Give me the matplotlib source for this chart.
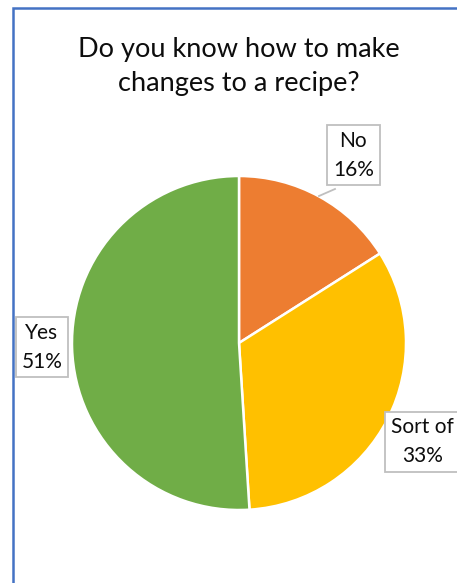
import matplotlib
matplotlib.use("Agg")
import matplotlib.pyplot as plt
from matplotlib.patches import Rectangle

# survey answers
answers = ["No", "Sort of", "Yes"]
shares = [16, 33, 51]
slice_colors = ["#ED7D31", "#FFC000", "#70AD47"]

plt.rcParams["font.family"] = ["Lato", "DejaVu Sans"]

W, H = 457, 583
fig = plt.figure(figsize=(W / 100, H / 100), dpi=100)

# chart frame (only the top and left edges fall inside the image)
fig.patches.append(Rectangle((13 / W, -0.2), 2.0, 1.2 - 8 / H,
                             transform=fig.transFigure, fill=False,
                             edgecolor="#4472C4", linewidth=1.8))

fig.text(239 / W, 1 - 67 / H, "Do you know how to make\nchanges to a recipe?",
         ha="center", va="center", fontsize=19.5, linespacing=1.45,
         color="#0D0D0D")

# pie area: centre (239, 343), radius 167 px
cx, cy, r = 239, 343, 167
ax = fig.add_axes([(cx - r) / W, (H - cy - r) / H, 2 * r / W, 2 * r / H])
wedges, _ = ax.pie(shares, colors=slice_colors, startangle=90,
                   counterclock=False,
                   wedgeprops=dict(edgecolor="white", linewidth=1.8))
ax.set_xlim(-1, 1)
ax.set_ylim(-1, 1)
ax.set_aspect("equal")
ax.axis("off")

label_pos = {
    "No": (0.685, 1.125),
    "Sort of": (1.1, -0.592),
    "Yes": (-1.18, -0.025),
}

for name, val in zip(answers, shares):
    x, y = label_pos[name]
    ax.text(x, y, f"{name}\n{val}%", ha="center", va="center",
            fontsize=15, linespacing=1.55, color="#0D0D0D", clip_on=False,
            bbox=dict(boxstyle="square,pad=0.28", facecolor="white",
                      edgecolor="#BFBFBF", linewidth=1.3))

# leader line for the small slice
ax.plot([(335 - cx) / r, (319 - cx) / r], [(cy - 189) / r, (cy - 196) / r],
        color="#BFBFBF", linewidth=1.3, clip_on=False)

fig.savefig("out.png", dpi=100)
